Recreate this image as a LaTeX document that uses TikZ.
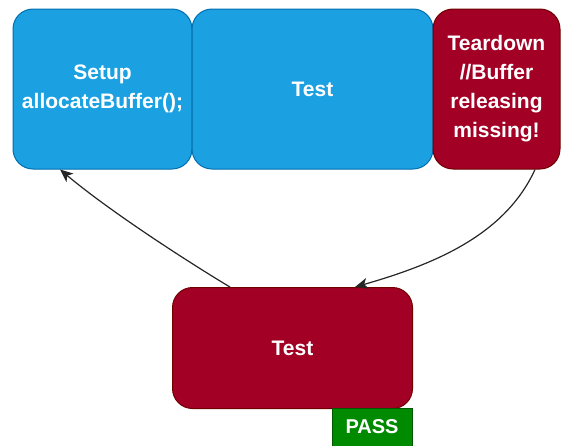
\documentclass[tikz,border=0pt]{standalone}
\usepackage{fontspec}
\setmainfont{Liberation Sans}
\usetikzlibrary{arrows.meta,calc}

\definecolor{stepblue}{HTML}{1BA1E2}
\definecolor{stepblueline}{HTML}{006EAF}
\definecolor{stepred}{HTML}{A20025}
\definecolor{stepredline}{HTML}{6F0000}
\definecolor{passgreen}{HTML}{008A00}
\definecolor{passgreenline}{HTML}{005700}

\tikzset{
  phase/.style={rectangle, rounded corners=20pt, draw, line width=1pt,
    inner sep=0pt, align=center, text=white,
    font=\fontsize{21}{29}\selectfont\bfseries},
  bluephase/.style={phase, fill=stepblue, draw=stepblueline},
  redphase/.style={phase, fill=stepred, draw=stepredline},
  badge/.style={rectangle, draw=passgreenline, fill=passgreen, line width=1pt,
    inner sep=0pt, text=white, font=\fontsize{20}{24}\selectfont\bfseries},
  flow/.style={draw=black!85, line width=1.2pt,
    -{Stealth[length=13pt,width=11pt,inset=3.5pt]}}
}

\begin{document}
\begin{tikzpicture}[x=1pt,y=-1pt]
  \path[use as bounding box, clip] (0,0) rectangle (561,445);

  % upper row of test phases
  \node[bluephase, minimum width=179pt, minimum height=160pt] (setup) at (102.5,89)
    {Setup\\allocateBuffer();};
  \node[bluephase, minimum width=241pt, minimum height=160pt] (test) at (312.5,89)
    {Test};
  \node[redphase, minimum width=127pt, minimum height=160pt] (teardown) at (496.5,89)
    {Teardown\\//Buffer\\releasing\\missing!};

  % following test and its result badge
  \node[redphase, minimum width=240pt, minimum height=121pt] (next) at (292.5,348)
    {Test};
  \node[badge, minimum width=80pt, minimum height=38pt] (pass) at (372,427)
    {PASS};

  % connectors
  \draw[flow] ($(teardown.south)+(38.5,0)$)
    .. controls (505,235) and (435,264) .. ($(next.north)+(62.5,0)$);
  \draw[flow] ($(next.north)+(-62.5,0)$)
    .. controls (208,274) and (118,218) .. ($(setup.south)+(-42.5,0)$);
\end{tikzpicture}
\end{document}
